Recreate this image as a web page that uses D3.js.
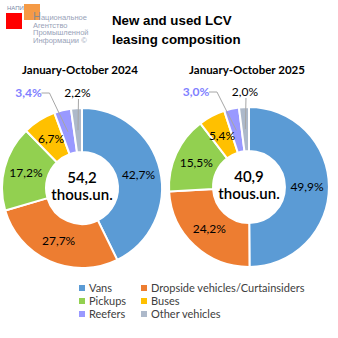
<!DOCTYPE html>
<html><head><meta charset="utf-8">
<script src="https://cdn.jsdelivr.net/npm/d3@7"></script>
<style>body{margin:0;background:#fff}svg{display:block}</style>
</head><body>
<svg id="c" width="338" height="338"></svg>
<script>
const categories = ["Vans","Dropside vehicles/Curtainsiders","Pickups","Buses","Reefers","Other vehicles"];
const colors = ["#5b9bd5","#ed7d31","#92d050","#ffc000","#9999ff","#adb9ca"];
const values2024 = [42.7,27.7,17.2,6.7,3.4,2.2];
const values2025 = [49.9,24.2,15.5,5.4,3.0,2.0];
const periods = ["January-October 2024","January-October 2025"];
const totals = ["54,2","40,9"];
const unitLabel = "thous.un.";
const titleLines = ["New and used LCV","leasing composition"];
const logoLines = ["Национальное","Агентство","Промышленной","Информации ©"];

const svg = d3.select("#c");
const font = "Lato, 'Open Sans', sans-serif";

// logo
svg.append("rect").attr("x",6).attr("y",13).attr("width",16).attr("height",16).attr("fill","#ff0000");
svg.append("rect").attr("x",24).attr("y",4).attr("width",16).attr("height",16).attr("fill","#f59a45");
svg.append("text").attr("x",7).attr("y",10).attr("font-family","'Liberation Sans',Arial").attr("font-size",6).attr("fill","#7a8aa8").text("НАПИ");
logoLines.forEach((t,i)=>{
  const tx = svg.append("text").attr("x",33).attr("y",20+i*7.5).attr("font-family","'Liberation Sans',Arial")
    .attr("font-size",7.5).attr("fill","#98a2b8");
  if (i===0) {
    tx.append("tspan").attr("font-size",11).attr("fill","#8a8a8a").text(t[0]);
    tx.append("tspan").text(t.slice(1));
  } else tx.text(t);
});

// title
titleLines.forEach((t,i)=>{
  svg.append("text").attr("x",112).attr("y",25+i*18.5).attr("font-family","'Liberation Sans',Arial")
    .attr("font-size",13.3).attr("font-weight","bold").attr("fill","#000").text(t);
});

const R = 80, r = 36;
const arc = d3.arc().innerRadius(r).outerRadius(R);
const pie = d3.pie().sort(null).value(d=>d);
const centers = [[82,188],[249,187]];
[values2024, values2025].forEach((vals, k)=>{
  const [cx, cy] = centers[k];
  const g = svg.append("g").attr("transform",`translate(${cx},${cy})`);
  const arcs = pie(vals);
  g.selectAll("path").data(arcs).join("path").attr("d",arc)
    .attr("fill",(d,i)=>colors[i]).attr("stroke","#fff").attr("stroke-width",2);
  // period title
  svg.append("text").attr("x",cx-2).attr("y",74).attr("text-anchor","middle")
    .attr("font-family",font).attr("font-size",11.5).attr("font-weight","bold").attr("fill","#000").text(periods[k]);
  // center text
  g.append("text").attr("x",0).attr("y",-5).attr("text-anchor","middle").attr("font-family",font)
    .attr("font-size",15).attr("font-weight","600").attr("fill","#000").text(totals[k]);
  g.append("text").attr("x",0).attr("y",12).attr("text-anchor","middle").attr("font-family",font)
    .attr("font-size",15).attr("font-weight","600").attr("fill","#000").text(unitLabel);
  const fmt = v => v.toFixed(1).replace(".",",")+"%";
  arcs.forEach((a,i)=>{
    const [x,y] = arc.centroid(a);
    if (i < 4) {
      g.append("text").attr("x",x).attr("y",y+4).attr("text-anchor","middle").attr("font-family",font)
        .attr("font-size",12).attr("fill","#000").text(fmt(vals[i]));
    }
  });
  // outside labels for small slices (Reefers, Other)
  const aO = arcs[5], aR = arcs[4];
  const midO = (aO.startAngle+aO.endAngle)/2;
  const lxO = R*Math.sin(midO) + 1, ly = -95;
  const [ox,oy] = arc.centroid(aO);
  g.append("line").attr("x1",lxO+1).attr("y1",ly+6).attr("x2",ox).attr("y2",oy).attr("stroke","#a6a6a6").attr("stroke-width",1);
  g.append("text").attr("x",lxO).attr("y",ly+4).attr("text-anchor","middle").attr("font-family",font)
    .attr("font-size",12).attr("fill","#000").text(fmt(vals[5]));
  const lxR = lxO - 49;
  const [rx,ry] = arc.centroid(aR);
  g.append("polyline").attr("points",`${lxR+13},${ly} ${lxR+21},${ly} ${rx},${ry}`).attr("fill","none").attr("stroke","#a6a6a6").attr("stroke-width",1);
  g.append("text").attr("x",lxR).attr("y",ly+4).attr("text-anchor","middle").attr("font-family",font)
    .attr("font-size",12).attr("font-weight","bold").attr("fill","#7f7fff").text(fmt(vals[4]));
});

// legend
const legCols = [82, 144], legRows = [288, 301, 314];
categories.forEach((c,i)=>{
  const col = i%2, row = Math.floor(i/2);
  svg.append("rect").attr("x",legCols[col]-3).attr("y",legRows[row]-3).attr("width",6).attr("height",6).attr("fill",colors[i]);
  svg.append("text").attr("x",legCols[col]+7).attr("y",legRows[row]+4).attr("font-family",font)
    .attr("font-size",11).attr("fill","#404040").text(c);
});
</script>
</body></html>
